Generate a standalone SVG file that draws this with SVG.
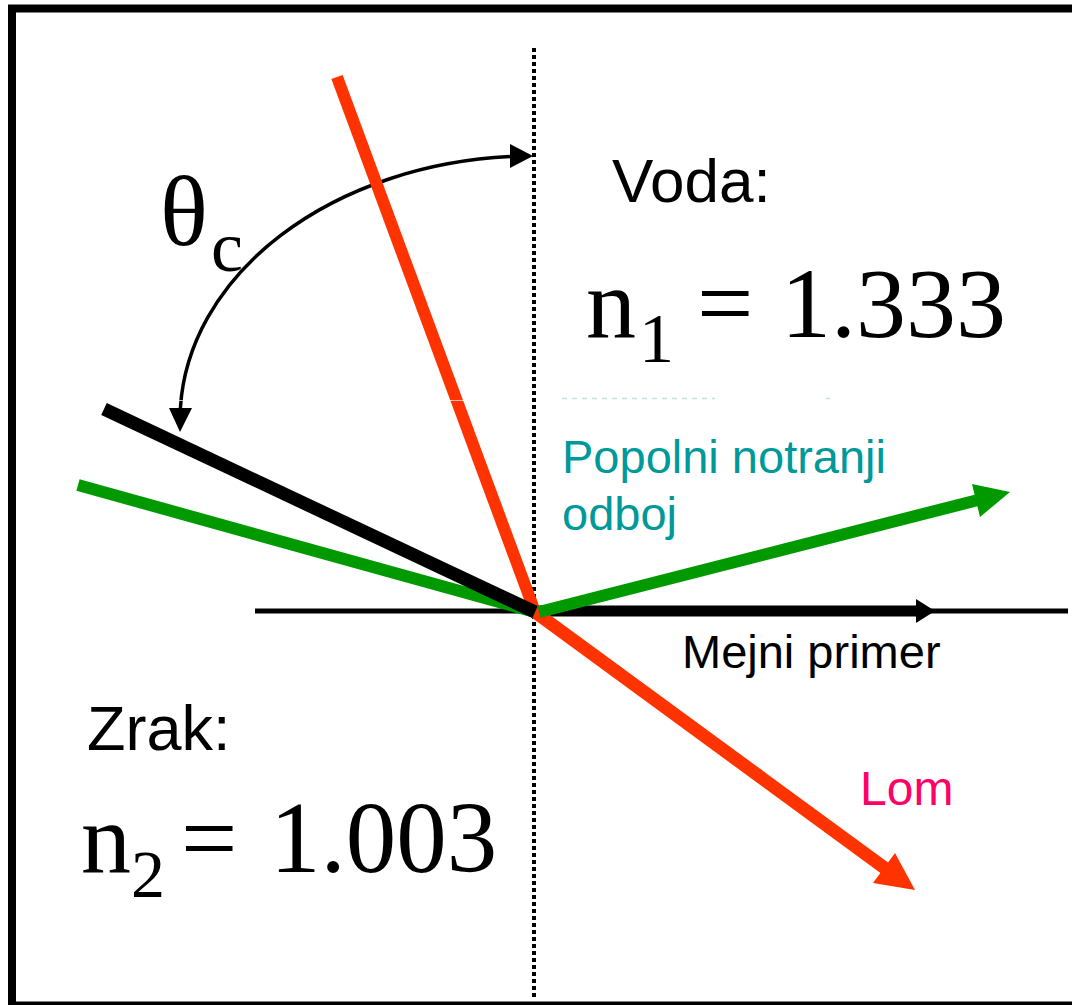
<svg xmlns="http://www.w3.org/2000/svg" width="1072" height="1005" viewBox="0 0 1072 1005">
<style>
.sans{font-family:"Liberation Sans",Arial,sans-serif}
.serif{font-family:"Liberation Serif","Times New Roman",serif}
.ray{fill:none;stroke-linecap:butt}
.red{stroke:#FF3300}
.redf{fill:#FF3300}
.grn{stroke:#009900}
.grnf{fill:#009900}
.blk{stroke:#000000}
.blkf{fill:#000000}
</style>
<rect x="0" y="0" width="1072" height="1005" fill="#ffffff"/>
<rect id="frame" x="12" y="8.5" width="1100" height="997" fill="none" stroke="#000" stroke-width="8"/>

<g id="artifacts">
<line x1="562" y1="398.5" x2="715" y2="398.5" stroke="#9fcfcf" stroke-width="1.5" stroke-dasharray="5 5" opacity="0.6"/>
<line x1="826" y1="398.5" x2="830" y2="398.5" stroke="#9fcfcf" stroke-width="1.5" opacity="0.6"/>
</g>

<g id="connectors">
  <line id="normal" x1="534" y1="48" x2="534" y2="1000" stroke="#000" stroke-width="4" stroke-dasharray="4 3"/>
  <line id="boundary" x1="255" y1="611" x2="1068" y2="611" stroke="#000" stroke-width="5"/>
  <path id="arc" d="M180.4,408 A353,264 0 0 1 510,156.6" fill="none" stroke="#000" stroke-width="3.5"/>
  <polygon class="blkf" points="533,156 510,144 510,168"/>
  <polygon class="blkf" points="180,432 169,408 192,408"/>
  <line class="ray blk" x1="535" y1="611" x2="918" y2="611" stroke-width="11"/>
  <polygon class="blkf" points="935,611 916,599 916,623"/>
  <line class="ray red" x1="535" y1="612" x2="886" y2="869" stroke-width="13"/>
  <polygon class="redf" points="915,890 895,853 873,883"/>
  <line class="ray red" x1="337" y1="77" x2="535" y2="612" stroke-width="12"/>
  <line class="ray grn" x1="78" y1="485" x2="535" y2="612" stroke-width="12"/>
  <line class="ray blk" x1="104" y1="409" x2="535" y2="612" stroke-width="13"/>
  <line class="ray grn" x1="539" y1="612" x2="978" y2="500" stroke-width="12"/>
  <polygon class="grnf" points="1010,492 972,484 980,517"/>
  <line x1="170" y1="400.5" x2="468" y2="400.5" stroke="#fff" stroke-width="1" opacity="0.7"/>
</g>

<g id="label-theta">
  <text class="serif" x="160" y="245" font-size="100" fill="#000">θ<tspan x="211" y="271" font-size="72">c</tspan></text>
</g>
<g id="label-voda">
  <text class="sans" x="612" y="202" font-size="62" fill="#000">Voda:</text>
</g>
<g id="label-n1">
  <text class="serif" x="586" y="337" font-size="100" fill="#000">n<tspan x="639" y="362" font-size="70">1</tspan><tspan x="697" y="337" font-size="100">=</tspan><tspan x="781" y="337" font-size="100">1.333</tspan></text>
</g>
<g id="label-popolni">
  <text class="sans" x="562" y="473" font-size="47" fill="#009999">Popolni notranji</text>
  <text class="sans" x="562" y="530" font-size="47" fill="#009999">odboj</text>
</g>
<g id="label-mejni">
  <text class="sans" x="682" y="668" font-size="47" fill="#000">Mejni primer</text>
</g>
<g id="label-zrak">
  <text class="sans" x="87" y="750" font-size="63" fill="#000">Zrak:</text>
</g>
<g id="label-n2">
  <text class="serif" x="81" y="872" font-size="100" fill="#000">n<tspan x="131" y="897" font-size="68">2</tspan><tspan x="181" y="872" font-size="100">=</tspan><tspan x="270" y="872" font-size="101">1.003</tspan></text>
</g>
<g id="label-lom">
  <text class="sans" x="860" y="805" font-size="48" fill="#FF0066">Lom</text>
</g>
</svg>
